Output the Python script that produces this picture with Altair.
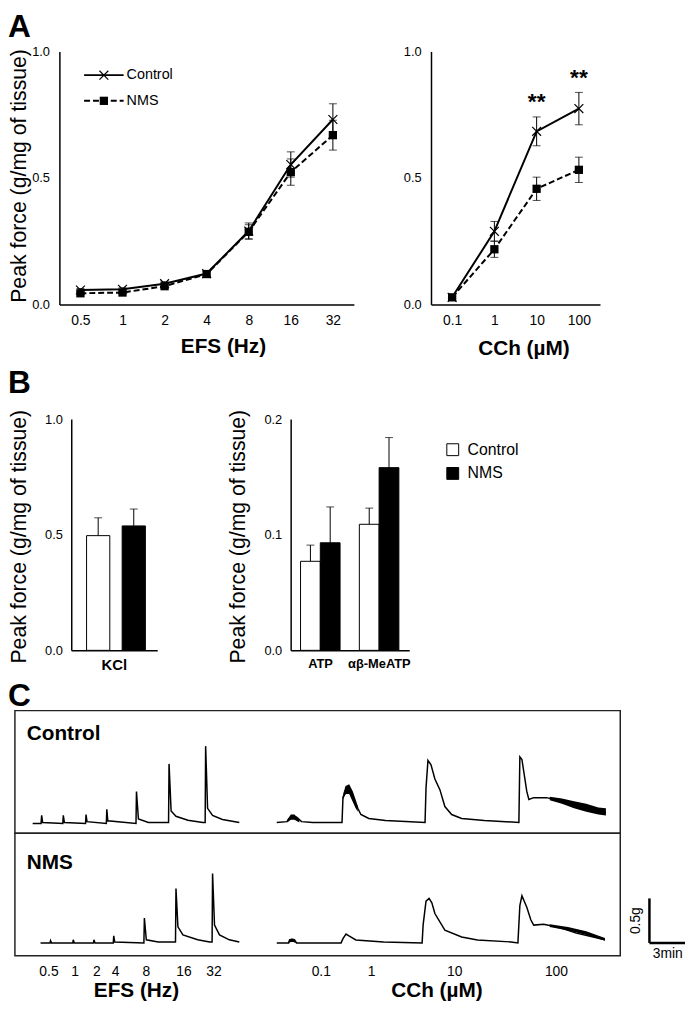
import altair as alt
import pandas as pd

# ---------------- values ----------------
# Panel A (left): EFS frequency-response
efs_freq = ["0.5", "1", "2", "4", "8", "16", "32"]
efs_ctrl_mean = [0.057, 0.060, 0.082, 0.122, 0.290, 0.553, 0.731]
efs_ctrl_sem = [0.006, 0.006, 0.008, 0.010, 0.032, 0.050, 0.062]
efs_nms_mean = [0.044, 0.047, 0.072, 0.120, 0.287, 0.523, 0.669]
efs_nms_sem = [0.005, 0.005, 0.007, 0.010, 0.028, 0.052, 0.059]

# Panel A (right): carbachol concentration-response
cch_conc = ["0.1", "1", "10", "100"]
cch_ctrl_mean = [0.028, 0.289, 0.684, 0.774]
cch_ctrl_sem = [0.005, 0.039, 0.057, 0.064]
cch_nms_mean = [0.028, 0.218, 0.457, 0.532]
cch_nms_sem = [0.004, 0.032, 0.046, 0.050]
cch_sig = ["", "", "**", "**"]

# Panel B
kcl_agent = ["KCl"]
kcl_ctrl = [0.496]
kcl_ctrl_sem = [0.077]
kcl_nms = [0.538]
kcl_nms_sem = [0.073]

pur_agent = ["ATP", "αβ-MeATP"]
pur_ctrl = [0.077, 0.109]
pur_ctrl_sem = [0.014, 0.014]
pur_nms = [0.093, 0.158]
pur_nms_sem = [0.031, 0.026]

# Panel C: isometric traces, time (min) and force above baseline (g)
ctrl_efs_t = [1.46, 2.15, 2.20, 2.28, 3.94, 3.98, 4.07, 5.81, 5.85, 5.93, 7.52, 7.56, 7.64,
              9.96, 10.00, 10.16, 10.98, 12.64, 12.68, 12.85, 13.25, 14.23, 15.45, 15.65,
              15.69, 15.85, 16.26, 17.07, 18.46]
ctrl_efs_g = [0.0, 0.0, 0.09, 0.01, 0.0, 0.09, 0.01, 0.0, 0.10, 0.02, 0.0, 0.16, 0.03,
              0.0, 0.36, 0.05, 0.01, 0.01, 0.67, 0.14, 0.08, 0.035, 0.01, 0.01,
              0.87, 0.17, 0.09, 0.045, 0.01]
ctrl_cch_t = [21.54, 22.36, 22.60, 22.76, 23.00, 23.17, 23.58, 24.50, 26.91, 26.99, 27.15,
              27.40, 27.50, 27.56, 27.72, 27.89, 28.05, 28.21, 28.46, 29.11, 30.49, 33.74,
              33.82, 33.98, 34.23, 34.55, 34.96, 35.37, 35.93, 36.75, 38.62, 41.46, 41.54,
              41.71, 42.11, 42.28, 42.68, 43.74, 45.12, 46.75, 48.62]
ctrl_cch_g = [0.01, 0.02, 0.06, 0.08, 0.06, 0.07, 0.02, 0.01, 0.01, 0.30, 0.33,
              0.38, 0.40, 0.36, 0.30, 0.25, 0.22, 0.17, 0.10, 0.056, 0.033, 0.011,
              0.40, 0.71, 0.66, 0.50, 0.38, 0.19, 0.10, 0.056, 0.033, 0.011, 0.75,
              0.72, 0.36, 0.27, 0.29, 0.29, 0.24, 0.17, 0.12]
nms_efs_t = [2.11, 2.89, 2.93, 3.01, 4.76, 4.80, 4.88, 6.46, 6.50, 6.59, 8.09, 8.13, 8.21,
             10.61, 10.65, 10.81, 11.79, 13.21, 13.25, 13.41, 13.82, 15.04, 16.02, 16.22,
             16.26, 16.42, 16.83, 17.64, 18.46]
nms_efs_g = [0.0, 0.0, 0.025, 0.0, 0.0, 0.035, 0.0, 0.0, 0.035, 0.0, 0.0, 0.08, 0.01,
             0.0, 0.28, 0.035, 0.01, 0.01, 0.61, 0.18, 0.09, 0.035, 0.01, 0.01,
             0.78, 0.20, 0.09, 0.035, 0.01]
nms_cch_t = [21.54, 22.52, 22.60, 22.85, 23.00, 23.17, 26.83, 27.00, 27.24, 27.48, 28.05,
             30.33, 33.50, 33.58, 33.82, 34.07, 34.30, 34.55, 35.37, 36.75, 38.05, 40.81,
             41.38, 41.54, 41.71, 42.11, 42.44, 42.68, 43.50, 44.88, 46.18, 48.54]
nms_cch_g = [0.0, 0.0, 0.035, 0.03, 0.035, 0.0, 0.0, 0.05, 0.10, 0.078, 0.033,
             0.011, 0.0, 0.20, 0.47, 0.50, 0.45, 0.33, 0.144, 0.067, 0.033, 0.011,
             0.0, 0.42, 0.53, 0.40, 0.26, 0.20, 0.21, 0.17, 0.11, 0.035]

# envelopes of the noisy stretches of the traces (segment id, time, low, high in g)
ctrl_noise_seg = [1, 1, 1, 1, 2, 2, 2, 2, 2, 2, 3, 3, 3, 3, 3, 3]
ctrl_noise_t = [22.40, 22.70, 23.00, 23.40, 27.00, 27.20, 27.50, 27.80, 28.00, 28.20,
                44.00, 45.00, 46.00, 47.00, 48.00, 48.62]
ctrl_noise_lo = [0.01, 0.04, 0.04, 0.01, 0.27, 0.33, 0.33, 0.24, 0.18, 0.13,
                 0.26, 0.22, 0.17, 0.13, 0.10, 0.09]
ctrl_noise_hi = [0.04, 0.10, 0.10, 0.04, 0.33, 0.42, 0.44, 0.36, 0.28, 0.20,
                 0.30, 0.28, 0.25, 0.22, 0.18, 0.17]
nms_noise_seg = [1, 1, 1, 1, 2, 2, 2, 2]
nms_noise_t = [22.50, 22.70, 22.90, 23.10, 44.00, 45.50, 47.00, 48.54]
nms_noise_lo = [0.0, 0.01, 0.01, 0.0, 0.18, 0.14, 0.09, 0.025]
nms_noise_hi = [0.02, 0.05, 0.05, 0.02, 0.21, 0.18, 0.13, 0.055]

efs_label_t = [2.80, 4.96, 6.75, 8.29, 10.81, 13.90, 16.38]
cch_label_t = [25.20, 29.35, 36.18, 44.55]
scalebar_t0 = 52.2
scalebar_min = 3
scalebar_g = 0.5

# ---------------- layout helpers ----------------
FONT = "Liberation Sans"
W, H = 685, 1003


def P(v):
    """page pixel -> plot pixel (page has an 8px margin)"""
    return v - 8


def lin(domain, r0, r1):
    return alt.Scale(domain=domain, range=[P(r0), P(r1)], nice=False, zero=False)


def pnt(domain, r0, r1):
    return alt.Scale(type="point", domain=domain, range=[P(r0), P(r1)], padding=0.5)


def band(domain, r0, r1, inner=0.0, outer=0.0):
    return alt.Scale(type="band", domain=domain, range=[P(r0), P(r1)],
                     paddingInner=inner, paddingOuter=outer)


AXIS_STYLE = dict(domainColor="black", domainWidth=1.5, ticks=False, tickSize=0, grid=False,
                  labelFont=FONT, labelColor="black", labelOverlap=False)


def bottom_axis(y, **kw):
    return alt.Axis(orient="bottom", offset=P(y) - H, labelAngle=0, **AXIS_STYLE, **kw)


def left_axis(x, **kw):
    return alt.Axis(orient="left", offset=-P(x), **AXIS_STYLE, **kw)


DUMMY = pd.DataFrame({"d": [0]})


def label(txt, x, y, size, weight="normal", align="center", baseline="middle", angle=0):
    mk = dict(text=txt, font=FONT, fontSize=size, fontWeight=weight, align=align,
              baseline=baseline, color="black")
    if angle:
        mk["angle"] = angle
    return alt.Chart(DUMMY).mark_text(**mk).encode(x=alt.value(P(x)), y=alt.value(P(y)))


XSHAPE = "M -1 -1 L 1 1 M -1 1 L 1 -1"
layers = []


# ---------------- panel A ----------------
def line_panel(cats, cm, cs, nm, ns, x0, x1, y0, y1, key, sig=None):
    n = len(cats)
    df = pd.DataFrame({"i": list(range(n)) * 2, key: cats * 2,
                       "group": ["Control"] * n + ["NMS"] * n,
                       "mean": cm + nm, "sem": cs + ns})
    df["lo"] = df["mean"] - df["sem"]
    df["hi"] = df["mean"] + df["sem"]
    ctrl = df[df.group == "Control"]
    nms = df[df.group == "NMS"]

    def X(axis=None):
        return alt.X(f"{key}:O", scale=pnt(cats, x0, x1), axis=axis, title=None)

    def Y(f, axis=None):
        return alt.Y(f"{f}:Q", scale=lin([0, 1], y0, y1), axis=axis, title=None)

    out = [
        alt.Chart(ctrl).mark_line(color="black", strokeWidth=2).encode(
            x=X(bottom_axis(y0, labelFontSize=14, labelPadding=9)),
            y=Y("mean", left_axis(x0, values=[0, 0.5, 1], format=".1f",
                                  labelFontSize=13, labelPadding=10)),
            order="i:Q"),
        alt.Chart(nms).mark_line(color="black", strokeWidth=2, strokeDash=[6, 3]).encode(
            x=X(), y=Y("mean"), order="i:Q"),
        alt.Chart(df).mark_rule(color="black", strokeWidth=1).encode(
            x=X(), y=Y("lo"), y2="hi"),
        alt.Chart(df).mark_tick(color="black", thickness=1, size=8, orient="horizontal").encode(
            x=X(), y=Y("lo")),
        alt.Chart(df).mark_tick(color="black", thickness=1, size=8, orient="horizontal").encode(
            x=X(), y=Y("hi")),
        alt.Chart(ctrl).mark_point(shape=XSHAPE, size=80, filled=False, color="black",
                                   strokeWidth=1.2, opacity=1).encode(x=X(), y=Y("mean")),
        alt.Chart(nms).mark_point(shape="square", size=70, filled=True, color="black",
                                  opacity=1).encode(x=X(), y=Y("mean")),
    ]
    if sig is not None:
        sdf = ctrl.copy()
        sdf["sig"] = sig
        sdf["sy"] = sdf["hi"] + 0.03
        out.append(alt.Chart(sdf).mark_text(font=FONT, fontSize=23, fontWeight="bold",
                                            baseline="alphabetic", color="black").encode(
            x=X(), y=Y("sy"), text="sig:N"))
    return out


layers += line_panel(efs_freq, efs_ctrl_mean, efs_ctrl_sem, efs_nms_mean, efs_nms_sem,
                     60, 358, 302, 46, "freq")
layers += line_panel(cch_conc, cch_ctrl_mean, cch_ctrl_sem, cch_nms_mean, cch_nms_sem,
                     436, 607, 302, 46, "conc", sig=cch_sig)

# legend of panel A
layers += [
    alt.Chart(DUMMY).mark_rule(color="black", strokeWidth=2).encode(
        x=alt.value(P(85)), x2=alt.value(P(125)), y=alt.value(P(70))),
    alt.Chart(DUMMY).mark_point(shape=XSHAPE, size=80, filled=False, color="black",
                                strokeWidth=1.2, opacity=1).encode(
        x=alt.value(P(105)), y=alt.value(P(70))),
    alt.Chart(DUMMY).mark_rule(color="black", strokeWidth=2, strokeDash=[6, 3]).encode(
        x=alt.value(P(85)), x2=alt.value(P(125)), y=alt.value(P(96))),
    alt.Chart(DUMMY).mark_point(shape="square", size=70, filled=True, color="black",
                                opacity=1).encode(x=alt.value(P(105)), y=alt.value(P(96))),
    label("Control", 128, 70, 14.5, align="left"),
    label("NMS", 128, 96, 14.5, align="left"),
]


# ---------------- panel B ----------------
def bar_panel(agents, cv, cse, nv, nse, ymax, yvals, ax0, ax1, ctrl_r, nms_r, inner,
              lab_outer, lab_size):
    dfc = pd.DataFrame({"agent": agents, "v": cv, "top": [a + b for a, b in zip(cv, cse)]})
    dfn = pd.DataFrame({"agent": agents, "v": nv, "top": [a + b for a, b in zip(nv, nse)]})

    def ys():
        return lin([0, ymax], 652, 418)

    out = [alt.Chart(dfc).mark_tick(opacity=0).encode(
        x=alt.X("agent:N", scale=band(agents, ax0, ax1, 0, lab_outer), title=None,
                axis=bottom_axis(652, labelFontSize=lab_size, labelFontWeight="bold",
                                 labelPadding=7)),
        y=alt.Y("v:Q", scale=ys(), title=None,
                axis=left_axis(ax0, values=yvals, format=".1f", labelFontSize=13,
                               labelPadding=9)))]
    for d, rng, fill in [(dfc, ctrl_r, "white"), (dfn, nms_r, "black")]:
        def xs():
            return alt.X("agent:N", scale=band(agents, rng[0], rng[1], inner, 0),
                         axis=None, title=None)
        out.append(alt.Chart(d).mark_rule(color="black", strokeWidth=1).encode(
            x=xs(), y=alt.Y("v:Q", scale=ys(), axis=None), y2="top"))
        out.append(alt.Chart(d).mark_tick(color="black", thickness=1, size=8,
                                          orient="horizontal").encode(
            x=xs(), y=alt.Y("top:Q", scale=ys(), axis=None)))
        out.append(alt.Chart(d).mark_bar(fill=fill, stroke="black", strokeWidth=1).encode(
            x=xs(), y=alt.Y("v:Q", scale=ys(), axis=None)))
    return out


layers += bar_panel(kcl_agent, kcl_ctrl, kcl_ctrl_sem, kcl_nms, kcl_nms_sem, 1.0,
                    [0, 0.5, 1.0], 72, 159, [87.5, 111], [123.5, 147], 0.0, 0.0, 15)
layers += bar_panel(pur_agent, pur_ctrl, pur_ctrl_sem, pur_nms, pur_nms_sem, 0.2,
                    [0, 0.1, 0.2], 294, 414, [304, 383.5], [324, 403.5], 0.664, 0.008, 13)

# legend of panel B
layers += [
    alt.Chart(DUMMY).mark_point(shape="square", size=144, filled=True, fill="white",
                                stroke="black", strokeWidth=1, opacity=1).encode(
        x=alt.value(P(458)), y=alt.value(P(449))),
    alt.Chart(DUMMY).mark_point(shape="square", size=144, filled=True, fill="black",
                                stroke="black", strokeWidth=1, opacity=1).encode(
        x=alt.value(P(458)), y=alt.value(P(473))),
    label("Control", 473, 449, 16, align="left"),
    label("NMS", 473, 473, 16, align="left"),
]

# ---------------- panel C ----------------
T_DOM = [0, 49.8]
C_DOM = [-0.11, 1.27]
N_DOM = [-0.144, 1.233]


def tsc():
    return lin(T_DOM, 15, 627.5)


def csc():
    return lin(C_DOM, 837, 713)


def nsc():
    return lin(N_DOM, 961, 837)


def trace_df(t1, g1, t2, g2):
    return pd.DataFrame({"t": t1 + t2, "g": g1 + g2,
                         "seg": ["EFS"] * len(t1) + ["CCh"] * len(t2),
                         "i": list(range(len(t1) + len(t2)))})


for df, ysc in [(trace_df(ctrl_efs_t, ctrl_efs_g, ctrl_cch_t, ctrl_cch_g), csc),
                (trace_df(nms_efs_t, nms_efs_g, nms_cch_t, nms_cch_g), nsc)]:
    layers.append(alt.Chart(df).mark_line(color="black", strokeWidth=1.5).encode(
        x=alt.X("t:Q", scale=tsc(), axis=None),
        y=alt.Y("g:Q", scale=ysc(), axis=None),
        detail="seg:N", order="i:Q"))

for seg, tt, lo, hi, ysc in [
        (ctrl_noise_seg, ctrl_noise_t, ctrl_noise_lo, ctrl_noise_hi, csc),
        (nms_noise_seg, nms_noise_t, nms_noise_lo, nms_noise_hi, nsc)]:
    ndf = pd.DataFrame({"seg": seg, "t": tt, "lo": lo, "hi": hi})
    layers.append(alt.Chart(ndf).mark_area(color="black", opacity=1).encode(
        x=alt.X("t:Q", scale=tsc(), axis=None),
        y=alt.Y("lo:Q", scale=ysc(), axis=None), y2="hi:Q",
        detail="seg:N"))

# frames of the two trace rows
for ysc, dom in [(csc, C_DOM), (nsc, N_DOM)]:
    layers.append(alt.Chart(DUMMY).mark_rect(fillOpacity=0, stroke="#222",
                                             strokeWidth=1.5).encode(
        x=alt.XDatum(T_DOM[0], type="quantitative", scale=tsc(), axis=None),
        x2=alt.X2Datum(T_DOM[1]),
        y=alt.YDatum(dom[0], type="quantitative", scale=ysc(), axis=None),
        y2=alt.Y2Datum(dom[1])))

# scale bar (drawn on the NMS-row scales)
layers += [
    alt.Chart(DUMMY).mark_rule(color="black", strokeWidth=2.5).encode(
        x=alt.XDatum(scalebar_t0, type="quantitative", scale=tsc(), axis=None),
        y=alt.YDatum(0, type="quantitative", scale=nsc(), axis=None),
        y2=alt.Y2Datum(scalebar_g)),
    alt.Chart(DUMMY).mark_rule(color="black", strokeWidth=2.5).encode(
        x=alt.XDatum(scalebar_t0, type="quantitative", scale=tsc(), axis=None),
        x2=alt.X2Datum(scalebar_t0 + scalebar_min),
        y=alt.YDatum(0, type="quantitative", scale=nsc(), axis=None)),
    alt.Chart(DUMMY).mark_text(text="0.5g", font=FONT, fontSize=14, angle=270,
                               color="black").encode(
        x=alt.XDatum(scalebar_t0 - 1.1, type="quantitative", scale=tsc(), axis=None),
        y=alt.YDatum(scalebar_g / 2, type="quantitative", scale=nsc(), axis=None)),
    alt.Chart(DUMMY).mark_text(text="3min", font=FONT, fontSize=14, color="black").encode(
        x=alt.XDatum(scalebar_t0 + scalebar_min / 2, type="quantitative", scale=tsc(),
                     axis=None),
        y=alt.YDatum(-0.125, type="quantitative", scale=nsc(), axis=None)),
]

# stimulus labels under the traces
for tt, lab in [(efs_label_t, efs_freq), (cch_label_t, cch_conc)]:
    ldf = pd.DataFrame({"t": tt, "lab": lab})
    layers.append(alt.Chart(ldf).mark_text(font=FONT, fontSize=14, color="black").encode(
        x=alt.X("t:Q", scale=tsc(), axis=None), y=alt.value(P(978)), text="lab:N"))

# ---------------- titles and panel letters ----------------
YT = "Peak force (g/mg of tissue)"
layers += [
    label("A", 8, 31, 32, weight="bold", align="left", baseline="alphabetic"),
    label("B", 8, 392, 32, weight="bold", align="left", baseline="alphabetic"),
    label("C", 8, 708, 32, weight="bold", align="left", baseline="alphabetic"),
    label(YT, 20.5, 172, 21.5, angle=270),
    label(YT, 20.5, 537, 21.5, angle=270),
    label(YT, 242, 537, 21.5, angle=270),
    label("EFS (Hz)", 226, 345, 21, weight="bold"),
    label("CCh (µM)", 530, 347, 21, weight="bold"),
    label("Control", 27, 737, 21, weight="bold", align="left"),
    label("NMS", 27, 867, 21, weight="bold", align="left"),
    label("EFS (Hz)", 138, 997, 21, weight="bold"),
    label("CCh (µM)", 442, 997, 21, weight="bold"),
]

chart = alt.layer(*layers).resolve_scale(
    x="independent", y="independent"
).properties(
    width=W, height=H, padding=0, autosize=alt.AutoSizeParams(type="none")
).configure_view(stroke=None)

chart.save("out.html", embed_options={"renderer": "svg", "actions": False})
